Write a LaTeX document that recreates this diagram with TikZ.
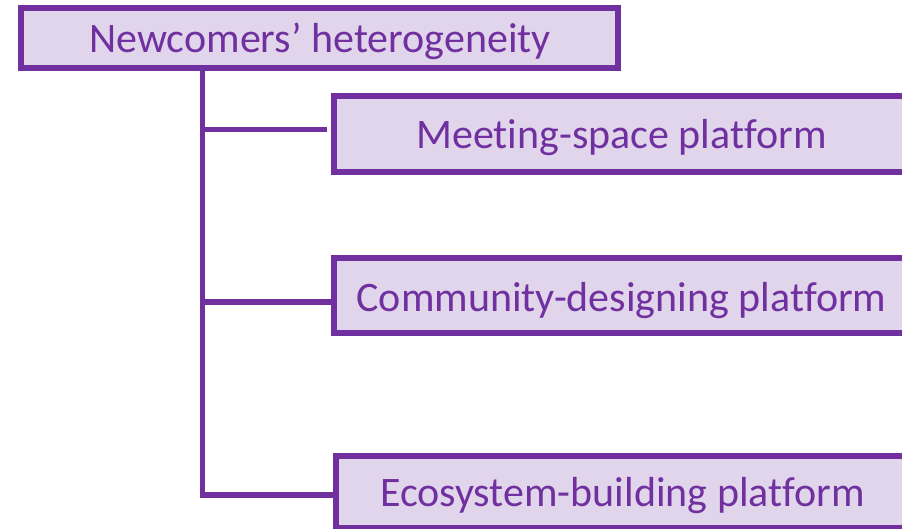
\documentclass[tikz,border=0pt]{standalone}
\usepackage{fontspec}
\setmainfont{Carlito}[Ligatures=NoCommon]
\definecolor{purp}{HTML}{7030A0}
\definecolor{lav}{HTML}{E1D5EB}
\begin{document}
\begin{tikzpicture}[x=1pt,y=-1pt,
  boxst/.style={draw=purp,fill=lav,line width=5.5pt,inner sep=0pt,rectangle},
  lbl/.style={anchor=base,text=purp,font=\fontsize{42}{50}\selectfont,inner sep=0pt},
  conn/.style={draw=purp,line width=5.5pt}]
\clip (0,0) rectangle (902,529);
\fill[white] (0,0) rectangle (902,529);
% boxes
\node[boxst,minimum width=597pt,minimum height=60pt] (top) at (319.5,38) {};
\node[boxst,minimum width=574pt,minimum height=76pt] (b1) at (621,134) {};
\node[boxst,minimum width=574pt,minimum height=75pt] (b2) at (621,295.5) {};
\node[boxst,minimum width=574pt,minimum height=72pt] (b3) at (623,492) {};
% connectors
\coordinate (elbow) at (202.5,495);
\coordinate (t1) at (202.5,129.5);
\coordinate (t2) at (202.5,302);
\draw[conn] (top.south -| elbow) -- (elbow) -- (elbow -| b3.west);
\draw[conn] (t1) -- ([xshift=-4pt]b1.west |- t1);
\draw[conn] (t2) -- (b2.west |- t2);
% labels
\node[lbl] (n0) at (320,52.5) {Newcomers’ heterogeneity};
\node[lbl] (n1) at (621.5,148.3) {Meeting-space platform};
\node[lbl] (n2) at (621.5,311.3) {Community-designing platform};
\node[lbl] (n3) at (622.5,506.7) {Ecosystem-building platform};
\end{tikzpicture}
\end{document}
